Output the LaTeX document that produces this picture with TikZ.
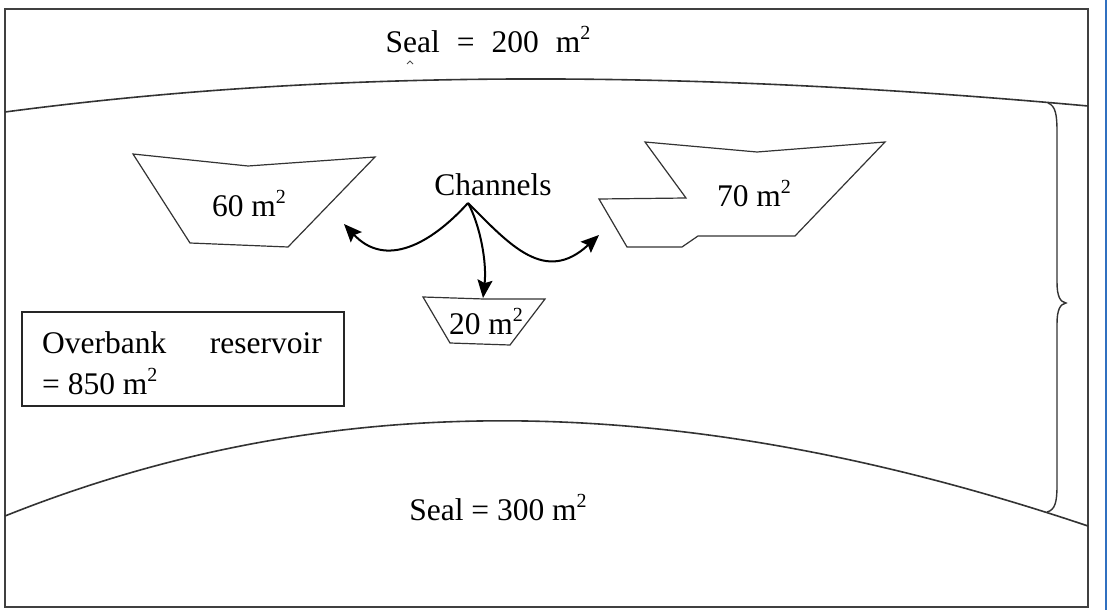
\documentclass[tikz,border=0pt]{standalone}
\usepackage{fontspec}
\setmainfont{Liberation Serif}
\usetikzlibrary{arrows.meta}
\newcommand{\sqm}{m\raisebox{13pt}{\fontsize{20}{20}\selectfont 2}}
\tikzset{
  frameline/.style={draw=black!75, line width=2pt},
  bankline/.style={draw=black!80, line width=1.6pt},
  shapeline/.style={draw=black!80, line width=1.2pt, line join=miter},
  lbl/.style={font=\fontsize{31.5}{36}\selectfont, text=black, inner sep=0pt},
  arr/.style={draw=black, line width=2pt, -{Stealth[length=18pt,width=15pt,inset=3pt]}},
}
\begin{document}
\begin{tikzpicture}[x=1pt,y=-1pt]
\useasboundingbox (0,0) rectangle (1112,610);
\fill[white] (0,0) rectangle (1112,610);
% frame
\draw[frameline] (5,9) rectangle (1088,607);
\draw[draw={rgb,255:red,48;green,112;blue,192}, line width=1.8pt] (1106,0) -- (1106,610);
% banks
\draw[bankline] (5,112) .. controls (330,69) and (680,69) .. (1088,106);
\draw[bankline] (5,516) .. controls (330,386) and (680,389) .. (1088,526);
% brace
\draw[draw=black!80, line width=1.4pt] (1048,103) .. controls (1056,106) and (1057,116) .. (1057,132)
  -- (1057,282) .. controls (1057,296) and (1060,302) .. (1066,303)
  .. controls (1060,304) and (1057,310) .. (1057,324)
  -- (1057,486) .. controls (1057,502) and (1055,510) .. (1047,512);
% seal labels
\node[lbl] (sealtop) at (488,40) {Seal\hspace{17pt}=\hspace{17pt}200\hspace{17pt}\sqm};
\draw[line width=1pt, black!70] (407,64) -- (410,61) -- (413,64);
\node[lbl] (sealbot) at (498,508) {Seal = 300 \sqm};
% 60 m2
\draw[shapeline] (133,154) -- (248,166) -- (375,157) -- (288,247) -- (190,243) -- cycle;
\node[lbl] (a60) at (249,204) {60 \sqm};
% 70 m2
\draw[shapeline] (645,142) -- (757,152) -- (885,142) -- (795,236) -- (698,236) -- (682,247)
  -- (627,247) -- (599,199) -- (686,198) -- cycle;
\node[lbl] (a70) at (754,194) {70 \sqm};
% 20 m2
\draw[shapeline] (423,297) -- (484,299) -- (545,299) -- (510,345) -- (450,343) -- cycle;
\node[lbl] (a20) at (486,322) {20 \sqm};
% channels
\node[lbl] (ch) at (493,185) {Channels};
\coordinate (src) at (468,203);
\coordinate (t60) at (344,224);
\coordinate (t70) at (599,235);
\coordinate (t20) at (483,298);
\draw[arr] (src) .. controls (430,245) and (385,268) .. (t60);
\draw[arr] (src) .. controls (510,245) and (545,285) .. (t70);
\draw[arr] (src) .. controls (480,225) and (487,262) .. (t20);
% overbank box
\draw[draw=black!85, line width=1.4pt] (22,312) rectangle (344,406);
\node[lbl, anchor=base west] (ob1) at (42,353) {Overbank};
\node[lbl, anchor=base east] (ob2) at (322,353) {reservoir};
\node[lbl, anchor=base west] (ob3) at (42,394) {= 850 \sqm};
\end{tikzpicture}
\end{document}
